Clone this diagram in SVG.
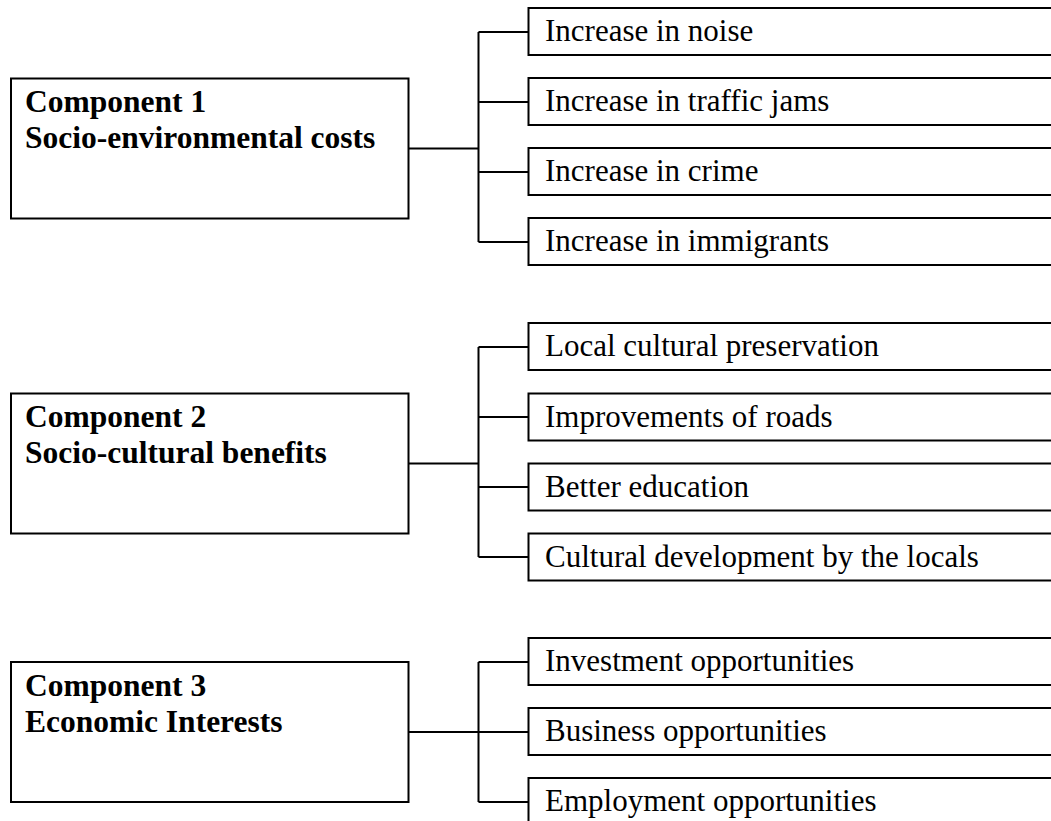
<svg xmlns="http://www.w3.org/2000/svg" width="1051" height="821" viewBox="0 0 1051 821">
<style>
.box{fill:#fff;stroke:#000;stroke-width:2}
.conn{fill:none;stroke:#000;stroke-width:2}
.head{font-family:"Liberation Serif","Times New Roman",serif;font-size:31.5px;font-weight:bold;fill:#000}
.item{font-family:"Liberation Serif","Times New Roman",serif;font-size:31px;fill:#000}
</style>
<rect width="1051" height="821" fill="#fff"/>
<g id="connectors">
<path class="conn" d="M408.5,148.5H478.5M478.5,32V242M478.5,32H528.5M478.5,102H528.5M478.5,172H528.5M478.5,242H528.5"/>
<path class="conn" d="M408.5,463.5H478.5M478.5,347V557M478.5,347H528.5M478.5,417H528.5M478.5,487H528.5M478.5,557H528.5"/>
<path class="conn" d="M408.5,732H478.5M478.5,662V802M478.5,662H528.5M478.5,732H528.5M478.5,802H528.5"/>
</g>
<g id="component1">
<rect class="box" x="11" y="78.5" width="397.5" height="140"/>
<text class="head" x="25" y="112">Component 1</text>
<text class="head" x="25" y="148">Socio-environmental costs</text>
</g>
<g id="c1-noise"><rect class="box" x="528.5" y="8" width="540" height="47"/><text class="item" x="545" y="41">Increase in noise</text></g>
<g id="c1-traffic"><rect class="box" x="528.5" y="78" width="540" height="47"/><text class="item" x="545" y="111">Increase in traffic jams</text></g>
<g id="c1-crime"><rect class="box" x="528.5" y="148" width="540" height="47"/><text class="item" x="545" y="181">Increase in crime</text></g>
<g id="c1-immigrants"><rect class="box" x="528.5" y="218" width="540" height="47"/><text class="item" x="545" y="251">Increase in immigrants</text></g>
<g id="component2">
<rect class="box" x="11" y="393.5" width="397.5" height="140"/>
<text class="head" x="25" y="427">Component 2</text>
<text class="head" x="25" y="463">Socio-cultural benefits</text>
</g>
<g id="c2-preservation"><rect class="box" x="528.5" y="323" width="540" height="47"/><text class="item" x="545" y="356">Local cultural preservation</text></g>
<g id="c2-roads"><rect class="box" x="528.5" y="393.5" width="540" height="47"/><text class="item" x="545" y="426.5">Improvements of roads</text></g>
<g id="c2-education"><rect class="box" x="528.5" y="463.5" width="540" height="47"/><text class="item" x="545" y="496.5">Better education</text></g>
<g id="c2-development"><rect class="box" x="528.5" y="533.5" width="540" height="47"/><text class="item" x="545" y="566.5">Cultural development by the locals</text></g>
<g id="component3">
<rect class="box" x="11" y="662" width="397.5" height="140"/>
<text class="head" x="25" y="695.5">Component 3</text>
<text class="head" x="25" y="731.5">Economic Interests</text>
</g>
<g id="c3-investment"><rect class="box" x="528.5" y="638" width="540" height="47"/><text class="item" x="545" y="671">Investment opportunities</text></g>
<g id="c3-business"><rect class="box" x="528.5" y="708" width="540" height="47"/><text class="item" x="545" y="741">Business opportunities</text></g>
<g id="c3-employment"><rect class="box" x="528.5" y="778" width="540" height="47"/><text class="item" x="545" y="811">Employment opportunities</text></g>
</svg>
